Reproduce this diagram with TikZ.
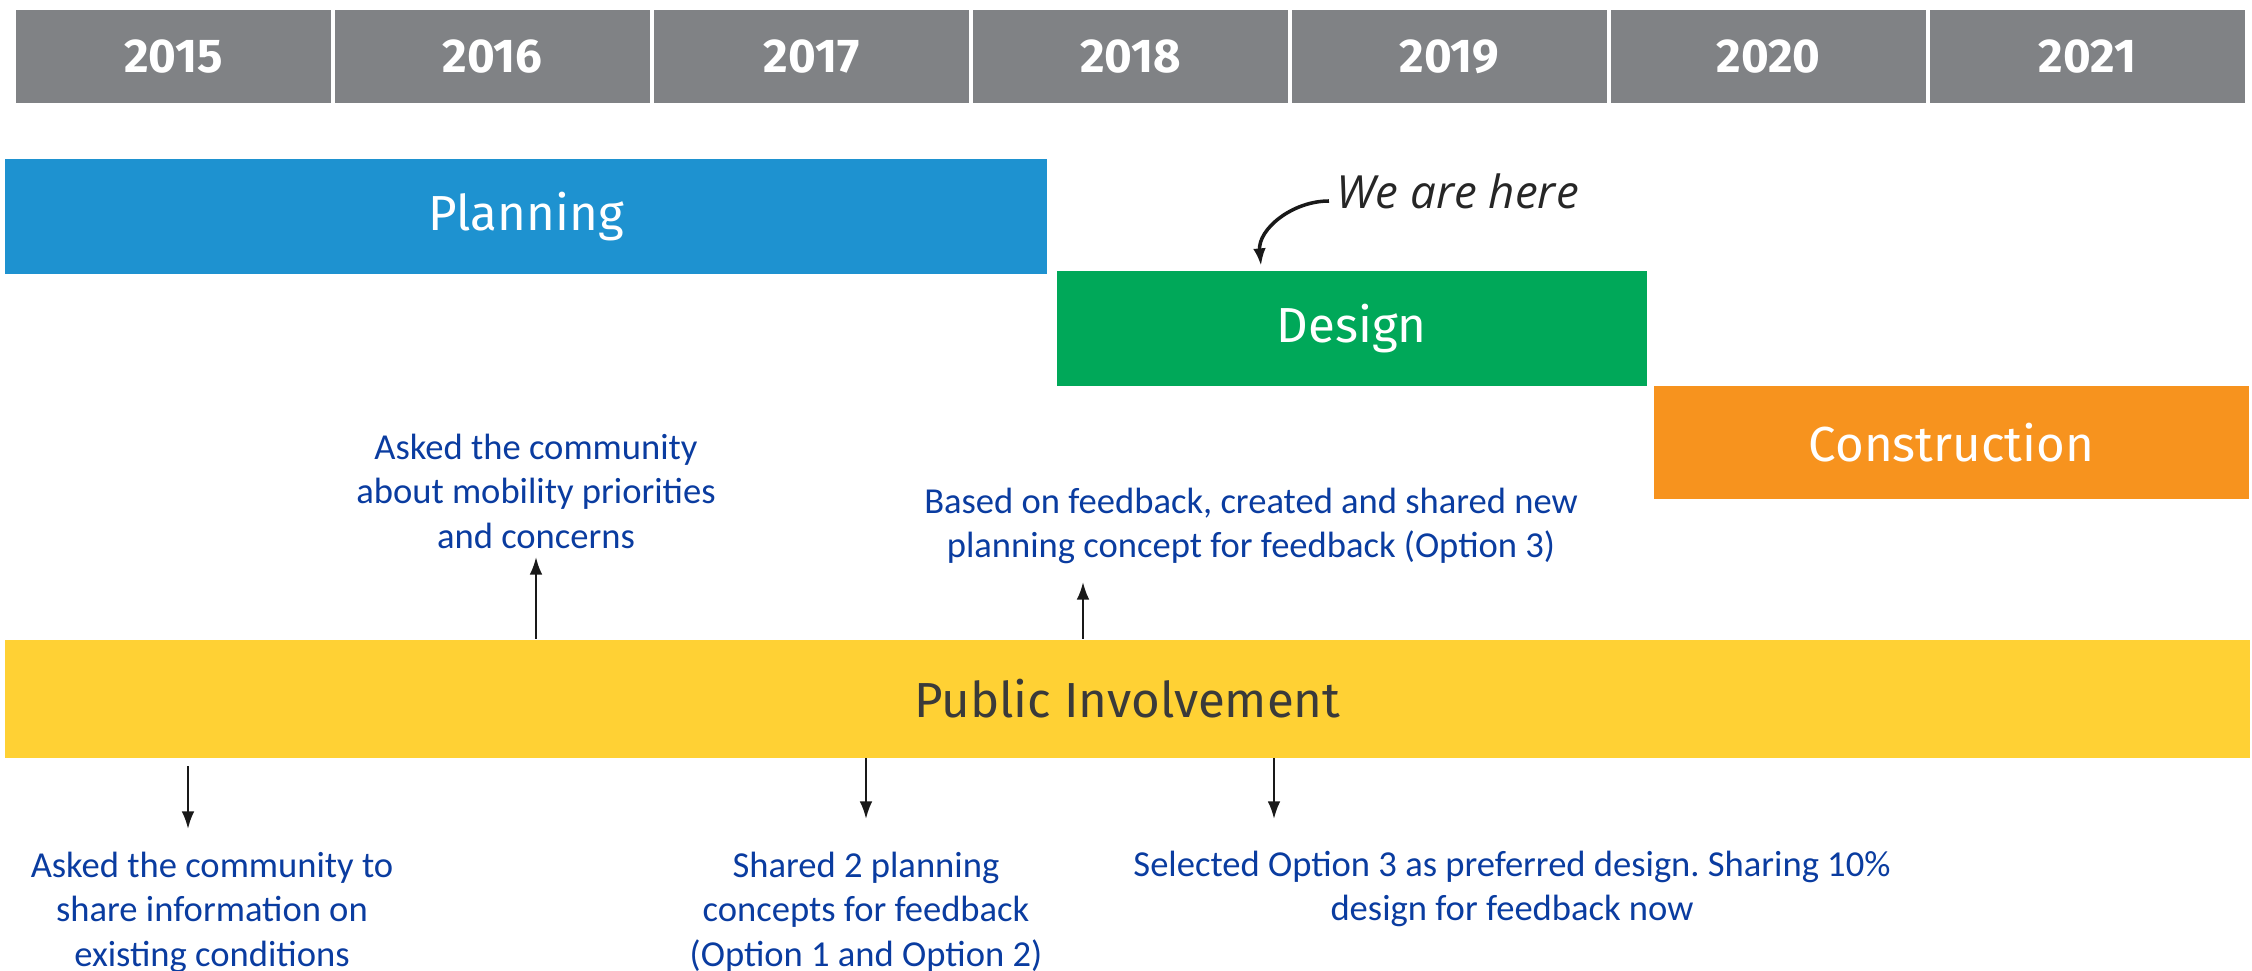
\documentclass[tikz,border=0pt]{standalone}
\usepackage{fontspec}
\setmainfont{Carlito}
\newfontfamily\dinfont{Fira Sans}
\newfontfamily\handfont{Open Sans}
\usetikzlibrary{arrows.meta,positioning}
\definecolor{yeargray}{HTML}{808285}
\definecolor{planblue}{HTML}{1E92D0}
\definecolor{designgreen}{HTML}{00A859}
\definecolor{constrorange}{HTML}{F7931E}
\definecolor{pubyellow}{HTML}{FFD134}
\definecolor{pubtext}{HTML}{3A3A3A}
\definecolor{textblue}{HTML}{0A3CA0}
\frenchspacing
\tikzset{
  yearbox/.style={fill=yeargray,text=white,minimum width=3.14cm,minimum height=0.93cm,inner sep=0pt,font=\dinfont\bfseries\fontsize{13.5}{15}\selectfont},
  phase/.style={anchor=north west,inner sep=0pt,text=white,font=\dinfont\fontsize{14}{17}\selectfont},
  note/.style={align=center,text=textblue,inner sep=0pt,font=\fontsize{10.4}{12.65}\selectfont},
  arr/.style={-{Latex[length=5pt,width=3.6pt]},line width=0.65pt,black!90},
}
\begin{document}
\begin{tikzpicture}[x=0.01cm,y=-0.01cm]
\useasboundingbox (0,0) rectangle (2252,971);
% years
\foreach \yr [count=\i from 0] in {2015,...,2021}
  \node (y\yr) [yearbox] at ({173.5+319*\i},56.5) {\yr};
% phases
\node (plan) [phase,fill=planblue,minimum width=10.42cm,minimum height=1.15cm] at (4,158) {Planning};
\node (design) [phase,fill=designgreen,minimum width=5.9cm,minimum height=1.15cm] at (1056,270) {Design};
\node (constr) [phase,fill=constrorange,minimum width=5.95cm,minimum height=1.13cm] at (1653,385) {Construction};
\node (pub) [phase,fill=pubyellow,text=pubtext,minimum width=22.44cm,minimum height=1.18cm] at (4,639) {Public Involvement};
%
\node (here) [anchor=west,inner sep=0pt,text=black!85,font=\handfont\itshape\fontsize{13}{15}\selectfont] at (1336,191) {We are here};
\coordinate (heretip) at (1261,266);
\draw[arr,line width=1pt] ([xshift=-2pt,yshift=-0.1cm]here.west) to[out=180,in=95] (heretip);
% notes
\node (ask1) [note] at (536,491) {Asked the community\\about mobility priorities\\and concerns};
\node (concept3) [note] at (1251,526) {Based on feedback, created and shared new\\planning concept for feedback (Option 3)};
\node (ask2) [note] at (212,912) {Asked the community to\\share information on\\existing conditions};
\node (concepts) [note] at (866,912) {Shared 2 planning\\concepts for feedback\\(Option 1 and Option 2)};
\node (select) [note] at (1512,889) {Selected Option 3 as preferred design. Sharing 10\%\\design for feedback now};
%
\coordinate (up1) at (536,557);
\coordinate (up2) at (1083,582);
\coordinate (dn1) at (188,829);
\coordinate (dn2) at (866,819);
\coordinate (dn3) at (1274,819);
\draw[arr] (up1 |- pub.north) -- (up1);
\draw[arr] (up2 |- pub.north) -- (up2);
\draw[arr] ([yshift=-0.08cm]dn1 |- pub.south) -- (dn1);
\draw[arr] (dn2 |- pub.south) -- (dn2);
\draw[arr] (dn3 |- pub.south) -- (dn3);
\end{tikzpicture}
\end{document}
